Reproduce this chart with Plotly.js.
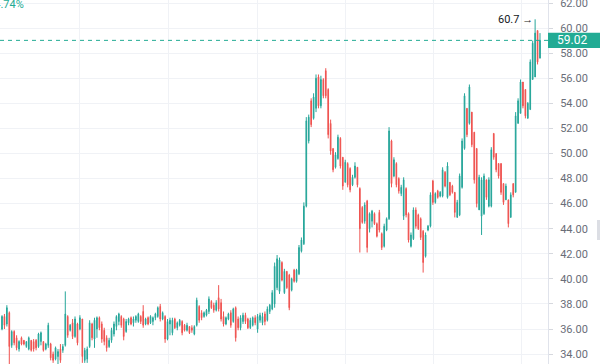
<!DOCTYPE html>
<html>
<head>
<meta charset="utf-8">
<script src="https://cdn.plot.ly/plotly-3.0.1.min.js"></script>
<style>
html,body{margin:0;padding:0;background:#ffffff;}
#chart{width:600px;height:364px;}
</style>
</head>
<body>
<div id="chart"></div>
<script>
// ---- Data ----
const openP = [
36.0,37.0,36.4,37.3,34.7,35.8,35.3,34.4,35.3,35.1,
34.6,34.4,35.1,35.0,35.1,34.6,35.0,35.0,34.4,34.7,
34.8,34.0,33.6,33.8,34.4,34.3,34.7,37.0,35.9,36.5,
35.4,36.4,36.0,36.8,33.5,33.6,34.6,36.4,35.2,36.0,
36.9,36.4,35.9,35.3,34.6,35.1,35.6,36.2,36.6,37.0,
36.8,35.8,36.5,36.9,36.5,36.7,36.6,37.0,37.4,36.4,
36.9,36.5,36.6,36.9,37.0,37.8,36.8,37.0,35.2,36.4,
35.7,36.8,36.1,36.3,36.6,36.3,35.9,36.2,36.1,35.6,
36.3,37.8,37.3,37.0,37.1,37.4,38.2,37.9,37.5,38.5,
38.1,37.0,36.4,36.8,37.3,36.6,37.7,36.8,36.1,36.6,
37.1,36.8,36.1,36.3,36.9,36.0,36.7,36.5,37.2,36.7,
37.4,37.6,38.0,39.3,39.0,41.3,38.9,40.6,40.3,39.1,
40.7,39.8,40.4,42.2,42.8,45.8,51.0,54.2,52.8,53.6,
56.1,53.8,55.9,56.6,55.1,52.4,50.4,48.9,49.6,51.2,
49.7,47.7,49.2,48.8,47.5,48.1,48.9,47.2,45.7,44.6,
46.2,44.0,44.6,45.2,44.4,45.3,43.6,42.6,43.9,44.8,
51.0,48.2,49.2,48.0,46.8,45.0,47.2,45.2,42.6,43.2,
45.5,45.1,44.8,43.8,41.8,43.9,44.2,47.8,46.1,47.0,
46.6,46.6,48.5,46.5,47.7,47.4,46.9,44.9,45.1,47.3,
50.4,53.6,52.4,53.3,51.7,50.4,45.5,45.0,45.2,47.9,
45.8,45.8,51.6,50.0,49.2,49.2,47.6,46.3,46.3,44.9,
47.6,46.9,52.4,53.2,55.7,55.1,52.8,53.5,55.9,56.1,
59.8,57.6
];
const highP = [
37.1,37.2,37.9,37.4,35.9,35.9,35.5,35.1,35.4,35.1,
35.0,35.4,35.1,35.2,35.2,35.7,35.8,35.0,34.9,36.5,
34.9,34.2,34.6,34.4,34.8,34.8,39.0,37.1,36.4,36.8,
37.0,36.5,37.1,36.8,34.5,34.6,36.7,36.5,36.9,37.0,
37.0,36.6,36.1,35.5,35.3,36.1,36.6,37.1,37.3,37.1,
36.9,36.8,36.9,37.0,37.0,37.1,37.3,37.1,37.9,36.9,
37.0,37.1,37.0,37.3,37.8,38.0,37.4,37.1,36.8,36.9,
36.9,36.9,36.6,36.8,36.7,36.4,36.5,36.2,36.3,36.3,
38.5,37.9,37.5,37.4,37.6,38.6,38.3,38.1,38.3,39.5,
38.4,37.4,37.0,37.3,37.5,37.7,37.8,37.0,37.1,37.3,
37.3,36.9,36.9,37.0,37.1,37.2,37.3,37.3,37.4,37.8,
38.0,39.1,41.3,41.9,41.7,41.4,40.8,40.6,40.4,40.1,
40.8,40.8,42.7,43.3,46.1,52.9,53.1,54.4,54.8,56.3,
56.3,56.2,56.0,56.8,55.2,52.7,50.4,50.1,51.5,51.3,
49.7,49.5,49.3,48.9,48.3,49.3,48.9,47.3,45.8,46.1,
46.3,45.3,45.5,45.3,44.5,45.5,43.7,44.4,44.9,52.1,
51.1,49.7,49.3,48.1,47.5,48.1,47.3,45.3,43.7,45.7,
45.7,45.2,44.9,43.9,43.7,44.3,46.9,47.9,46.9,47.1,
47.0,48.9,48.6,49.3,47.7,47.5,46.9,46.3,48.4,51.2,
54.8,53.6,55.5,53.3,51.7,50.4,48.3,48.1,48.4,47.9,
48.1,50.5,51.6,50.0,49.2,49.2,47.6,47.6,46.3,46.9,
47.6,53.3,54.4,55.9,55.7,55.1,54.1,57.5,59.0,60.7,
59.8,59.6
];
const lowP = [
35.9,36.0,36.2,33.2,34.5,34.7,34.3,34.2,34.7,34.7,
34.5,34.3,34.2,34.2,34.3,34.5,34.7,34.2,34.3,34.5,
33.5,33.3,33.5,33.2,33.3,34.1,34.6,35.3,35.8,35.2,
35.3,34.7,35.9,33.3,33.3,33.3,34.5,35.1,34.5,35.3,
35.9,34.9,34.7,34.2,34.5,34.9,35.4,35.9,36.3,36.1,
35.1,35.7,36.3,36.3,36.2,36.5,36.5,36.4,36.1,36.3,
36.3,36.4,36.3,36.7,36.9,36.6,36.7,34.9,35.1,35.5,
35.5,36.0,35.9,36.2,35.5,35.8,35.8,35.6,35.7,35.5,
36.2,36.5,36.7,36.9,37.0,37.2,37.6,37.3,37.4,37.4,
36.6,36.2,36.3,36.7,36.1,36.5,35.0,35.9,35.9,36.4,
36.4,36.0,36.0,36.2,36.3,35.7,36.5,36.3,36.3,36.6,
37.2,37.5,37.7,39.1,38.8,39.8,38.8,39.2,37.5,39.0,
39.7,39.7,40.3,42.1,42.7,45.7,50.8,52.1,52.7,53.3,
53.6,53.6,54.4,54.4,51.2,49.9,48.5,48.8,49.5,48.8,
47.1,47.7,47.3,46.9,47.4,48.0,47.3,42.1,44.4,44.4,
42.1,43.7,44.1,44.3,43.3,43.7,42.3,42.5,43.8,44.7,
47.3,48.1,47.3,46.8,46.6,44.7,44.9,42.9,42.5,43.1,
44.0,43.9,43.1,40.5,41.7,43.8,44.1,45.9,46.0,46.4,
46.5,46.5,47.3,46.4,46.6,46.8,44.9,44.9,45.0,47.2,
50.3,51.3,52.3,50.5,47.6,45.7,45.5,43.5,45.1,46.3,
45.7,45.7,49.5,48.5,48.0,46.7,45.9,46.3,44.1,44.9,
46.5,46.9,52.4,53.2,53.6,52.8,52.8,53.5,55.9,56.1,
57.1,57.6
];
const closeP = [
37.0,36.3,37.7,34.6,35.8,34.9,34.5,35.0,34.8,34.8,
35.0,35.3,34.3,34.4,34.5,35.6,35.7,34.3,34.8,36.3,
33.7,33.5,34.5,34.2,33.5,34.6,37.2,35.5,36.3,35.4,
36.8,34.9,36.9,33.8,34.3,34.4,36.5,35.3,36.7,36.9,
36.1,35.2,35.0,34.5,35.1,35.9,36.4,37.0,37.2,36.3,
35.4,36.6,36.8,36.4,36.8,37.0,37.2,36.6,36.3,36.8,
36.4,37.0,36.9,37.2,37.7,36.8,37.3,35.2,36.6,36.7,
36.7,36.1,36.5,36.7,35.7,35.9,36.3,35.7,35.9,36.2,
38.3,36.7,36.9,37.3,37.5,38.4,37.7,37.5,38.1,37.6,
36.8,36.4,36.9,37.2,36.3,37.6,35.3,36.1,36.9,37.1,
36.6,36.1,36.7,36.9,36.5,37.0,37.1,37.0,36.6,37.6,
37.9,38.9,41.0,41.6,41.5,39.9,40.6,39.3,37.7,40.0,
39.8,40.7,42.5,43.1,45.8,52.6,52.9,52.3,54.5,56.0,
53.8,55.9,54.6,54.6,51.5,50.2,48.7,49.9,51.3,49.0,
47.4,49.3,47.5,47.1,48.1,49.0,47.5,44.0,44.5,45.9,
42.5,45.2,45.4,44.4,43.4,43.9,42.5,44.2,44.8,51.8,
47.6,49.5,47.5,47.0,47.3,47.9,45.1,43.1,43.5,45.5,
44.2,44.0,43.3,41.3,43.5,44.2,46.7,46.1,46.8,46.5,
46.9,48.7,47.4,49.0,46.7,46.9,45.3,46.1,48.2,51.0,
54.6,51.5,55.3,50.7,47.9,46.0,48.1,47.9,48.2,46.5,
47.9,50.3,49.7,48.7,48.2,46.9,46.1,47.4,44.4,46.7,
46.7,53.0,54.2,55.7,53.8,53.0,54.0,57.3,58.8,59.6,
57.3,59.02
];
const lastPrice = 59.02;
const peakPrice = 60.7;
const peakIndex = 219;
const changeText = '+4.74%';
const verticalGridAt = [32.0, 68.2, 104.8, 141.3, 177.1, 213.6];

// ---- Styling ----
const upColor = '#26a69a';
const downColor = '#ef5350';
const labelGreen = '#22ab94';
const gridColor = '#f0f2f6';
const yRange = [33.21, 62.24];
const plotW = 548;
const idx = closeP.map((_, i) => i);
const toPaperY = v => (v - yRange[0]) / (yRange[1] - yRange[0]);

const trace = {
  type: 'candlestick',
  x: idx, open: openP, high: highP, low: lowP, close: closeP,
  increasing: {line: {color: upColor, width: 1}, fillcolor: upColor},
  decreasing: {line: {color: downColor, width: 1}, fillcolor: downColor},
  whiskerwidth: 0,
  hoverinfo: 'skip',
  showlegend: false
};

const layout = {
  width: 600, height: 364,
  margin: {l: 0, r: 600 - plotW, t: 0, b: 0, pad: 0},
  paper_bgcolor: '#ffffff', plot_bgcolor: '#ffffff',
  font: {family: 'Roboto, sans-serif', size: 11, color: '#6a6d78'},
  boxgap: 0.6,
  showlegend: false,
  xaxis: {
    range: [-0.82, 224.29], rangeslider: {visible: false},
    tickmode: 'array', tickvals: verticalGridAt, showticklabels: false, ticks: '',
    showgrid: true, gridcolor: gridColor, gridwidth: 1,
    zeroline: false, showline: false, fixedrange: true
  },
  yaxis: {
    side: 'right', range: yRange,
    tick0: 0, dtick: 2, tickformat: '.2f',
    ticks: 'outside', ticklen: 4, tickcolor: '#d6d8de', tickwidth: 1,
    ticklabelstandoff: 5, ticklabeloverflow: 'allow',
    showline: true, linecolor: '#e0e3eb', linewidth: 1,
    showgrid: true, gridcolor: gridColor, gridwidth: 1,
    zeroline: false, fixedrange: true,
    tickfont: {family: 'Roboto, sans-serif', size: 11, color: '#6a6d78'}
  },
  shapes: [
    {type: 'line', xref: 'paper', x0: 0, x1: 1, yref: 'y', y0: lastPrice, y1: lastPrice,
     line: {color: labelGreen, width: 1, dash: '4px,4px'}, layer: 'above'},
    {type: 'rect', xref: 'paper', x0: 1, x1: 600 / plotW,
     yref: 'paper', y0: toPaperY(lastPrice - 0.6), y1: toPaperY(lastPrice + 0.6),
     fillcolor: labelGreen, line: {width: 0}, layer: 'above'},
    {type: 'rect', xref: 'paper', x0: 597 / plotW, x1: 600 / plotW, yref: 'paper', y0: 124 / 364, y1: 144 / 364,
     fillcolor: '#dcdee4', line: {width: 0}, layer: 'above'}
  ],
  annotations: [
    {xref: 'paper', x: 572 / plotW, xanchor: 'center', yref: 'y', y: lastPrice, yanchor: 'middle',
     text: lastPrice.toFixed(2), showarrow: false,
     font: {family: 'Roboto, sans-serif', size: 12, color: '#ffffff'}},
    {xref: 'x', x: peakIndex, yref: 'y', y: peakPrice, xanchor: 'right', yanchor: 'middle',
     xshift: 0, text: peakPrice + ' \u2192', showarrow: false,
     font: {family: 'Roboto, sans-serif', size: 11, color: '#131722'}},
    {xref: 'paper', x: 26 / plotW, xanchor: 'right', yref: 'paper', y: 1, yanchor: 'middle', yshift: -4,
     text: changeText, showarrow: false,
     font: {family: 'Roboto, sans-serif', size: 11, color: labelGreen}}
  ]
};

Plotly.newPlot('chart', [trace], layout, {staticPlot: true, displayModeBar: false});
</script>
</body>
</html>
